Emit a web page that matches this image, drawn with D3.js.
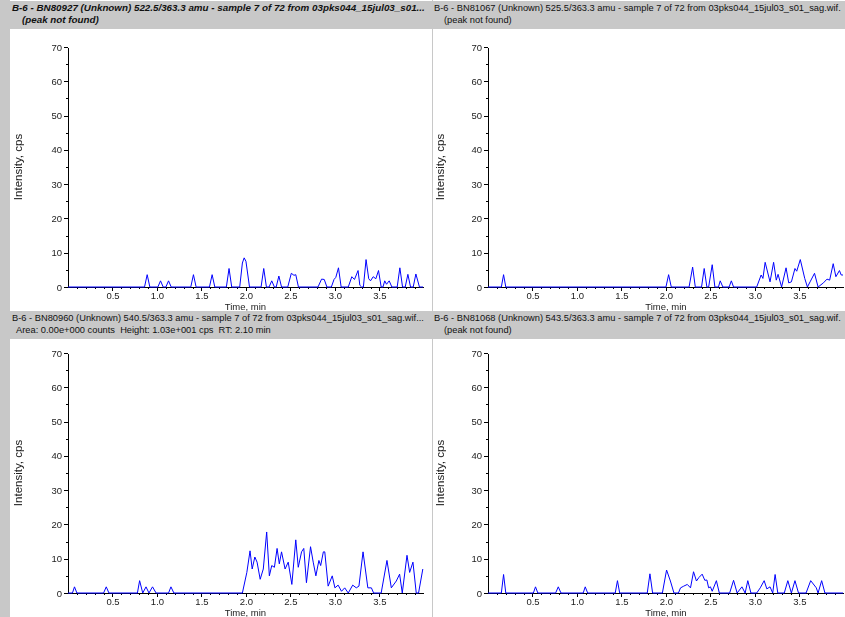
<!DOCTYPE html>
<head>
  <meta charset="utf-8">
  <script src="https://d3js.org/d3.v7.min.js"></script>
  <style>
    body { margin:0; position:fixed; top:0; right:0; bottom:0; left:0; background:#fff; overflow:hidden; }
    text { font-family: "Liberation Sans", Arial, sans-serif; white-space: pre; }
    .axis path, .axis line { stroke: #000; shape-rendering: crispEdges; }
    .axis text { font-size: 9.5px; fill: #222; }
    .head-text { font-size: 9.3px; fill: #111; }
    .head-bold { font-size: 9.8px; font-weight: 700; font-style: italic; }
    .x-label { font-size: 9.5px; fill: #222; }
    .y-label { font-size: 11.5px; fill: #222; }
    .trace { fill: none; stroke: #0000ff; stroke-width: 1; stroke-linejoin: round; }
  </style>
</head>
<body>
  <script>
    // panel titles
    var titles = [
      "B-6 - BN80927 (Unknown) 522.5/363.3 amu - sample 7 of 72 from 03pks044_15jul03_s01...",
      "B-6 - BN81067 (Unknown) 525.5/363.3 amu - sample 7 of 72 from 03pks044_15jul03_s01_sag.wif.",
      "B-6 - BN80960 (Unknown) 540.5/363.3 amu - sample 7 of 72 from 03pks044_15jul03_s01_sag.wif...",
      "B-6 - BN81068 (Unknown) 543.5/363.3 amu - sample 7 of 72 from 03pks044_15jul03_s01_sag.wif."
    ];
    var subtitles = [
      "(peak not found)",
      "(peak not found)",
      "Area: 0.00e+000 counts  Height: 1.03e+001 cps  RT: 2.10 min",
      "(peak not found)"
    ];

    var xMajorTicks = [0.5, 1.0, 1.5, 2.0, 2.5, 3.0, 3.5];
    var yMajorTicks = [0, 10, 20, 30, 40, 50, 60, 70];

    // [time (min), intensity (cps)]
    var traceBN80927 = [
      [0.00,0],[0.86,0],[0.89,3.6],[0.92,0],
      [1.01,0],[1.04,1.8],[1.07,0],[1.10,0],[1.13,1.8],[1.16,0],
      [1.38,0],[1.41,3.6],[1.44,0],
      [1.59,0],[1.62,3.6],[1.65,0],
      [1.78,0],[1.81,5.4],[1.84,0],
      [1.93,0],[1.96,7.0],[1.98,8.5],[2.00,7.5],[2.04,0],
      [2.17,0],[2.20,5.4],[2.23,0],
      [2.26,0],[2.29,1.8],[2.32,0],
      [2.34,0],[2.37,3.2],[2.40,0],
      [2.47,0],[2.51,4.0],[2.54,3.4],[2.56,3.6],[2.59,0],
      [2.81,0],[2.85,2.3],[2.88,2.2],[2.91,0],
      [2.96,0],[2.99,2.2],[3.01,2.8],[3.04,5.6],[3.07,0],
      [3.15,0],[3.19,3.0],[3.22,2.2],[3.26,4.8],[3.28,0.5],[3.30,0],
      [3.32,0],[3.35,8.0],[3.38,2.4],[3.40,1.8],[3.43,3.0],[3.46,2.4],[3.49,4.8],[3.52,0],
      [3.54,0],[3.56,1.8],[3.58,0.8],[3.61,1.8],[3.64,0],
      [3.70,0],[3.73,5.6],[3.76,0],
      [3.79,0],[3.82,3.7],[3.85,0],
      [3.88,0],[3.91,3.8],[3.95,0],[3.99,0]
    ];

    var traceBN81067 = [
      [0.00,0],[0.15,0],[0.175,3.6],[0.20,0],
      [2.00,0],[2.03,3.6],[2.06,0],
      [2.26,0],[2.30,5.8],[2.33,0],
      [2.40,0],[2.43,5.4],[2.46,0],[2.48,0],[2.52,6.5],[2.55,0],
      [2.59,0],[2.61,1.8],[2.64,0],
      [2.71,0],[2.735,1.8],[2.76,0],
      [3.02,0],[3.07,3.5],[3.09,2.5],[3.115,7.2],[3.17,1.5],[3.21,7.2],[3.24,2.0],
      [3.26,3.7],[3.30,0],[3.35,5.6],[3.38,1.2],[3.41,1.5],[3.45,5.4],[3.47,4.6],
      [3.51,8.0],[3.56,2.5],[3.59,0],[3.62,1.5],[3.67,4.0],[3.71,0],
      [3.77,1.2],[3.81,2.3],[3.84,2.0],[3.88,6.8],[3.91,3.0],[3.95,4.8],[3.97,3.5],[3.99,3.5]
    ];

    var traceBN80960 = [
      [0.00,0],[0.05,0],[0.073,1.8],[0.10,0],
      [0.40,0],[0.43,1.8],[0.46,0],
      [0.78,0],[0.805,3.6],[0.84,0],[0.877,1.8],[0.91,0],[0.95,1.8],[0.99,0],
      [1.13,0],[1.157,1.8],[1.19,0],
      [1.96,0],[2.01,6.0],[2.046,12.3],[2.07,7.0],[2.10,10.5],[2.125,9.0],[2.16,4.0],
      [2.195,7.0],[2.233,17.8],[2.263,5.0],[2.29,8.0],[2.32,7.5],[2.35,13.0],[2.375,8.5],
      [2.40,12.0],[2.44,7.0],[2.475,9.0],[2.516,2.5],[2.56,15.5],[2.588,7.5],[2.625,12.0],
      [2.65,13.0],[2.68,3.0],[2.726,13.5],[2.756,9.0],[2.786,5.0],[2.82,9.5],[2.84,8.0],
      [2.87,12.0],[2.886,12.0],[2.924,2.0],[2.97,5.0],[3.00,1.5],[3.036,2.3],[3.074,0.5],
      [3.11,1.5],[3.15,0],[3.20,2.3],[3.24,1.5],[3.27,2.0],[3.316,12.0],[3.37,1.5],
      [3.41,1.5],[3.435,0],[3.52,0],[3.585,9.5],[3.634,1.5],[3.69,3.5],[3.727,5.5],
      [3.757,0],[3.81,11.0],[3.84,6.0],[3.877,9.0],[3.914,0],[3.94,0],[3.988,7.0]
    ];

    var traceBN81068 = [
      [0.00,0],[0.15,0],[0.175,5.4],[0.20,0],
      [0.51,0],[0.534,1.8],[0.56,0],
      [0.76,0],[0.79,1.8],[0.82,0],
      [1.07,0],[1.093,1.8],[1.12,0],
      [1.43,0],[1.455,3.6],[1.48,0],
      [1.79,0],[1.82,5.6],[1.85,0],
      [1.96,0],[2.007,6.7],[2.05,3.5],[2.09,0],
      [2.14,0],[2.164,1.5],[2.20,2.0],[2.24,2.5],[2.276,1.5],[2.31,6.2],[2.343,3.5],
      [2.37,4.5],[2.407,5.5],[2.437,3.7],[2.46,3.8],[2.48,1.5],[2.50,1.8],[2.52,0.5],
      [2.567,3.6],[2.60,0],
      [2.716,0],[2.76,3.7],[2.80,0],
      [2.854,1.8],[2.89,0],[2.92,3.6],[2.955,0],
      [3.02,0],[3.06,1.5],[3.104,3.6],[3.134,1.2],[3.17,1.8],[3.20,0],[3.227,5.4],[3.257,0],
      [3.33,0],[3.37,3.6],[3.41,0],[3.45,3.6],[3.49,0],
      [3.575,0],[3.627,3.6],[3.69,1.5],[3.71,0],[3.75,3.6],[3.787,0],[3.99,0]
    ];

    var traces = [traceBN80927, traceBN81067, traceBN80960, traceBN81068];

    var W = 845, H = 617;
    var svg = d3.select("body").append("svg")
        .attr("width", W)
        .attr("height", H);

    // panel frames: left edge, header top, plot top, axis x0, axis x1
    var panels = [
      {x: 10,  head: 1,   y: 5,   ax0: 68,  ax1: 423, right: 432},
      {x: 432, head: 1,   y: 5,   ax0: 488, ax1: 844, right: 845},
      {x: 10,  head: 311, y: 311, ax0: 68,  ax1: 423, right: 432},
      {x: 432, head: 311, y: 311, ax0: 488, ax1: 844, right: 845}
    ];
    var headH = 28;

    // grey strip down the left side
    svg.append("rect")
      .attr("x", 0).attr("y", 0)
      .attr("width", 10).attr("height", H)
      .attr("fill", "#c8c8c8");

    // divider between columns
    svg.append("line")
      .attr("x1", 432.5).attr("x2", 432.5)
      .attr("y1", 0).attr("y2", H)
      .attr("stroke", "#c8c8c8");

    panels.forEach(function(p, i) {
      var g = svg.append("g");

      g.append("rect")
        .attr("x", p.x).attr("y", p.head)
        .attr("width", p.right - p.x).attr("height", headH)
        .attr("fill", "#c8c8c8");

      g.append("text")
        .attr("class", "head-text" + (i == 0 ? " head-bold" : ""))
        .attr("x", p.x + 2)
        .attr("y", p.head + 10)
        .text(titles[i]);

      g.append("text")
        .attr("class", "head-text" + (i == 0 ? " head-bold" : ""))
        .attr("x", p.x + (i == 2 ? 6 : 12))
        .attr("y", p.head + 22)
        .text(subtitles[i]);

      var x = d3.scaleLinear()
        .domain([0, 3.99])
        .range([p.ax0, p.ax0 + 355]);

      var y = d3.scaleLinear()
        .domain([0, 70])
        .range([p.y + 282, p.y + 42]);

      var xAxis = d3.axisBottom(x)
        .tickValues(xMajorTicks)
        .tickFormat(d3.format(".1f"))
        .tickSize(4)
        .tickSizeOuter(0)
        .tickPadding(1);

      var xMinor = d3.axisBottom(x)
        .tickValues(d3.range(1, 40).map(d => d / 10).filter(d => Math.round(d * 10) % 5 != 0))
        .tickFormat("")
        .tickSize(2)
        .tickSizeOuter(0);

      var yAxis = d3.axisLeft(y)
        .tickValues(yMajorTicks)
        .tickSize(4)
        .tickSizeOuter(0)
        .tickPadding(2);

      var yMinor = d3.axisLeft(y)
        .tickValues(d3.range(5, 70, 10))
        .tickFormat("")
        .tickSize(2)
        .tickSizeOuter(0);

      g.append("g")
        .attr("class", "axis")
        .attr("transform", "translate(0," + (p.y + 282) + ")")
        .call(xMinor);

      g.append("g")
        .attr("class", "axis")
        .attr("transform", "translate(0," + (p.y + 282) + ")")
        .call(xAxis);

      // stretch the time axis line to the panel's plot edge
      g.append("line")
        .attr("x1", p.ax0).attr("x2", p.ax1)
        .attr("y1", p.y + 282.5).attr("y2", p.y + 282.5)
        .attr("stroke", "#000");

      g.append("g")
        .attr("class", "axis")
        .attr("transform", "translate(" + p.ax0 + ",0)")
        .call(yMinor);

      g.append("g")
        .attr("class", "axis")
        .attr("transform", "translate(" + p.ax0 + ",0)")
        .call(yAxis);

      var line = d3.line()
        .x(d => x(d[0]))
        .y(d => y(d[1]));

      g.append("path")
        .datum(traces[i])
        .attr("class", "trace")
        .attr("d", line);

      g.append("text")
        .attr("class", "x-label")
        .attr("text-anchor", "middle")
        .attr("x", (p.ax0 + p.ax1) / 2)
        .attr("y", p.y + 305)
        .text("Time, min");

      g.append("text")
        .attr("class", "y-label")
        .attr("text-anchor", "middle")
        .attr("transform", "translate(" + (p.x + 12) + "," + (p.y + 162) + ") rotate(-90)")
        .text("Intensity, cps");
    });
  </script>
</body>
